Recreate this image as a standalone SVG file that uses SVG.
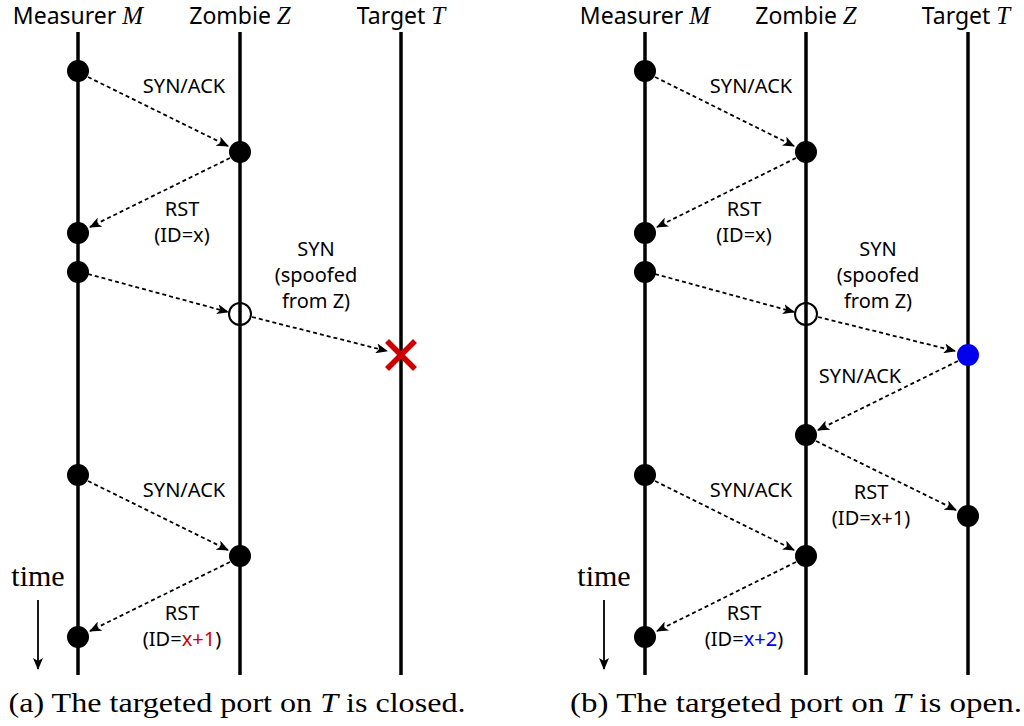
<svg xmlns="http://www.w3.org/2000/svg" width="1024" height="726" viewBox="0 0 1024 726">
<defs>
<marker id="ah" viewBox="0 0 12 10" refX="11" refY="5" markerWidth="12" markerHeight="10" orient="auto" markerUnits="userSpaceOnUse"><path d="M0,0 L12,5 L0,10 L3,5 Z" fill="#000"/></marker>
</defs>
<style>
.life{stroke:#000;stroke-width:3.5;fill:none}
.msg{stroke:#000;stroke-width:1.8;stroke-dasharray:4,3;fill:none;marker-end:url(#ah)}
.dot{fill:#000}
.hdr{font-family:"Noto Sans",sans-serif;font-size:23px;text-anchor:middle}
.var{font-family:"Liberation Serif",serif;font-style:italic;font-size:25px}
.lbl{font-family:"Noto Sans",sans-serif;font-size:20px;text-anchor:middle}
.cap{font-family:"Liberation Serif",serif;font-size:28px;text-anchor:middle}
.time{font-family:"Liberation Serif",serif;font-size:30px;text-anchor:middle}
</style>
<rect width="1024" height="726" fill="#fff"/>
<g id="lifelines">
<line class="life" x1="78" y1="32" x2="78" y2="675"/>
<line class="life" x1="240" y1="32" x2="240" y2="675"/>
<line class="life" x1="401" y1="32" x2="401" y2="675"/>
<line class="life" x1="645" y1="32" x2="645" y2="675"/>
<line class="life" x1="806" y1="32" x2="806" y2="675"/>
<line class="life" x1="968" y1="32" x2="968" y2="675"/>
</g>
<g id="headers">
<text class="hdr" x="78" y="24">Measurer <tspan class="var">M</tspan></text>
<text class="hdr" x="240" y="24">Zombie <tspan class="var">Z</tspan></text>
<text class="hdr" x="401" y="24">Target <tspan class="var">T</tspan></text>
<text class="hdr" x="645" y="24">Measurer <tspan class="var">M</tspan></text>
<text class="hdr" x="806" y="24">Zombie <tspan class="var">Z</tspan></text>
<text class="hdr" x="966" y="24">Target <tspan class="var">T</tspan></text>
</g>
<g id="connectors">
<line class="msg" x1="88" y1="77" x2="228" y2="146"/>
<line class="msg" x1="230" y1="158" x2="90" y2="227"/>
<line class="msg" x1="88" y1="274" x2="228" y2="312"/>
<line class="msg" x1="252" y1="317" x2="387" y2="351"/>
<line class="msg" x1="88" y1="481" x2="228" y2="550"/>
<line class="msg" x1="230" y1="562" x2="90" y2="631"/>
<line class="msg" x1="655" y1="77" x2="794" y2="146"/>
<line class="msg" x1="796" y1="158" x2="657" y2="227"/>
<line class="msg" x1="655" y1="274" x2="794" y2="312"/>
<line class="msg" x1="818" y1="317" x2="955" y2="351"/>
<line class="msg" x1="958" y1="361" x2="818" y2="430"/>
<line class="msg" x1="816" y1="441" x2="956" y2="510"/>
<line class="msg" x1="655" y1="481" x2="794" y2="550"/>
<line class="msg" x1="796" y1="562" x2="657" y2="631"/>
<line x1="38" y1="600" x2="38" y2="669" stroke="#000" stroke-width="1.8" marker-end="url(#ah)"/>
<line x1="604" y1="600" x2="604" y2="669" stroke="#000" stroke-width="1.8" marker-end="url(#ah)"/>
</g>
<g id="nodes">
<circle class="dot" cx="78" cy="71" r="11"/>
<circle class="dot" cx="240" cy="152" r="11"/>
<circle class="dot" cx="78" cy="233" r="11"/>
<circle class="dot" cx="78" cy="272" r="11"/>
<circle cx="240" cy="314" r="11" fill="none" stroke="#000" stroke-width="2"/>
<g id="xmark" stroke="#cc0000" stroke-width="5.5"><line x1="387" y1="341" x2="415" y2="369"/><line x1="415" y1="341" x2="387" y2="369"/></g>
<circle class="dot" cx="78" cy="475" r="11"/>
<circle class="dot" cx="240" cy="556" r="11"/>
<circle class="dot" cx="78" cy="637" r="11"/>
<circle class="dot" cx="645" cy="71" r="11"/>
<circle class="dot" cx="806" cy="152" r="11"/>
<circle class="dot" cx="645" cy="233" r="11"/>
<circle class="dot" cx="645" cy="272" r="11"/>
<circle cx="806" cy="314" r="11" fill="none" stroke="#000" stroke-width="2"/>
<circle cx="968" cy="355" r="11" fill="#0000ee"/>
<circle class="dot" cx="806" cy="435" r="11"/>
<circle class="dot" cx="968" cy="516" r="11"/>
<circle class="dot" cx="645" cy="475" r="11"/>
<circle class="dot" cx="806" cy="556" r="11"/>
<circle class="dot" cx="645" cy="637" r="11"/>
</g>
<g id="labels">
<text class="lbl" x="184" y="93">SYN/ACK</text>
<text class="lbl" x="182" y="216">RST</text>
<text class="lbl" x="182" y="242">(ID=x)</text>
<text class="lbl" x="316" y="256">SYN</text>
<text class="lbl" x="316" y="282">(spoofed</text>
<text class="lbl" x="316" y="308">from Z)</text>
<text class="lbl" x="184" y="497">SYN/ACK</text>
<text class="lbl" x="182" y="620">RST</text>
<text class="lbl" x="182" y="646">(ID=<tspan fill="#cc0000">x+1</tspan>)</text>
<text class="time" x="38" y="586">time</text>
<text class="lbl" x="751" y="93">SYN/ACK</text>
<text class="lbl" x="744" y="216">RST</text>
<text class="lbl" x="744" y="242">(ID=x)</text>
<text class="lbl" x="878" y="256">SYN</text>
<text class="lbl" x="878" y="282">(spoofed</text>
<text class="lbl" x="878" y="308">from Z)</text>
<text class="lbl" x="860" y="383">SYN/ACK</text>
<text class="lbl" x="871" y="499">RST</text>
<text class="lbl" x="871" y="525">(ID=x+1)</text>
<text class="lbl" x="751" y="497">SYN/ACK</text>
<text class="lbl" x="744" y="620">RST</text>
<text class="lbl" x="744" y="646">(ID=<tspan fill="#0000ee">x+2</tspan>)</text>
<text class="time" x="604" y="586">time</text>
</g>
<g id="captions">
<text class="cap" x="237" y="712" textLength="457" lengthAdjust="spacingAndGlyphs">(a) The targeted port on <tspan font-style="italic">T</tspan> is closed.</text>
<text class="cap" x="796" y="712" textLength="452" lengthAdjust="spacingAndGlyphs">(b) The targeted port on <tspan font-style="italic">T</tspan> is open.</text>
</g>
</svg>
